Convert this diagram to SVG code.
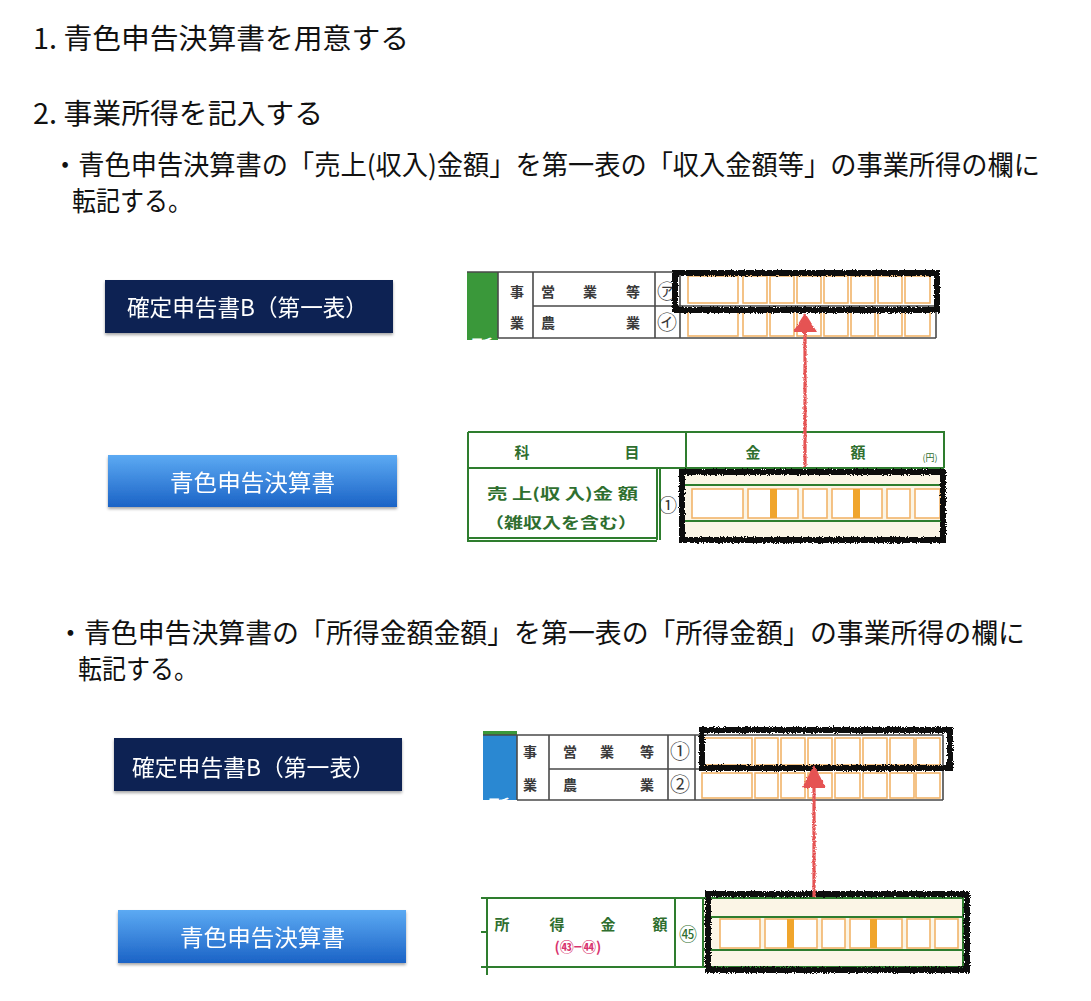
<svg xmlns="http://www.w3.org/2000/svg" width="1091" height="1001" viewBox="0 0 1091 1001">
<defs>
<style>
text{font-family:"Noto Sans CJK JP","Noto Sans",sans-serif}
.h{font-size:28px;fill:#111}
.bt{font-size:27px;fill:#111}
.bx{font-size:23px;fill:#fff}
.navy{fill:#0b2253}
.blue{fill:url(#bg)}
.tk{font-size:14px;font-weight:bold;fill:#3a3a3a}
.tg{font-size:15px;font-weight:bold;fill:#2f6f2f}
.ln{stroke:#4a4a4a;stroke-width:1.6;fill:none}
.gl{stroke:#2e7d2e;stroke-width:2;fill:none}
.cell{fill:#fff;stroke:#f2b46a;stroke-width:1.6}
.bar{fill:#f0a52c}
.beige{fill:#fbf5e6}
.scr{fill:none;stroke:#0a0a0a;stroke-width:6;filter:url(#rough)}
.arr{stroke:#e55353;stroke-width:3.2;fill:none;filter:url(#rough2)}
.ah{fill:#e55353;filter:url(#rough2)}
</style>
<linearGradient id="bg" x1="0" y1="0" x2="0" y2="1">
<stop offset="0" stop-color="#5caaf3"/>
<stop offset="1" stop-color="#1b63c6"/>
</linearGradient>
<filter id="sh" x="-5%" y="-20%" width="110%" height="150%">
<feDropShadow dx="0" dy="2" stdDeviation="1.5" flood-color="#000" flood-opacity="0.35"/>
</filter>
<filter id="rough" x="-5%" y="-30%" width="110%" height="160%">
<feTurbulence type="fractalNoise" baseFrequency="0.9" numOctaves="2" seed="3" result="n"/>
<feDisplacementMap in="SourceGraphic" in2="n" scale="4" xChannelSelector="R" yChannelSelector="G"/>
</filter>
<filter id="rough2" filterUnits="userSpaceOnUse" x="0" y="0" width="1091" height="1001">
<feTurbulence type="fractalNoise" baseFrequency="0.9" numOctaves="2" seed="7" result="n"/>
<feDisplacementMap in="SourceGraphic" in2="n" scale="3" xChannelSelector="R" yChannelSelector="G"/>
</filter>
<clipPath id="c1"><rect x="467" y="272" width="31" height="68"/></clipPath>
<clipPath id="c3"><rect x="483" y="735" width="34" height="65"/></clipPath>
</defs>
<rect width="1091" height="1001" fill="#fff"/>

<g id="texts">
<text class="h" x="33" y="49" textLength="376" lengthAdjust="spacingAndGlyphs">1. 青色申告決算書を用意する</text>
<text class="h" x="33" y="124" textLength="290" lengthAdjust="spacingAndGlyphs">2. 事業所得を記入する</text>
<text class="bt" x="52" y="175" textLength="988" lengthAdjust="spacingAndGlyphs">・青色申告決算書の「売上(収入)金額」を第一表の「収入金額等」の事業所得の欄に</text>
<text class="bt" x="72" y="211" textLength="120" lengthAdjust="spacingAndGlyphs">転記する。</text>
<text class="bt" x="57" y="643" textLength="968" lengthAdjust="spacingAndGlyphs">・青色申告決算書の「所得金額金額」を第一表の「所得金額」の事業所得の欄に</text>
<text class="bt" x="78" y="679" textLength="120" lengthAdjust="spacingAndGlyphs">転記する。</text>
</g>

<g id="box1" filter="url(#sh)">
<rect class="navy" x="105" y="280" width="288" height="53"/>
<text class="bx" x="127" y="316" textLength="241" lengthAdjust="spacingAndGlyphs">確定申告書B（第一表）</text>
</g>
<g id="box2" filter="url(#sh)">
<rect class="blue" x="108" y="455" width="289" height="52"/>
<text class="bx" x="170" y="491" textLength="165" lengthAdjust="spacingAndGlyphs">青色申告決算書</text>
</g>
<g id="box3" filter="url(#sh)">
<rect class="navy" x="114" y="738" width="288" height="53"/>
<text class="bx" x="132" y="776" textLength="243" lengthAdjust="spacingAndGlyphs">確定申告書B（第一表）</text>
</g>
<g id="box4" filter="url(#sh)">
<rect class="blue" x="118" y="910" width="288" height="53"/>
<text class="bx" x="180" y="946" textLength="165" lengthAdjust="spacingAndGlyphs">青色申告決算書</text>
</g>

<g id="table1">
<rect x="467" y="272" width="31" height="68" fill="#3a983a"/>
<text x="471" y="356" font-size="22" fill="#fff" clip-path="url(#c1)">所</text>
<path class="ln" d="M467 272H936M533 272V338M655 272V338M680 272V338M936 272V338M533 306H936M498 338H936M498 272V338"/>
<g>
<rect class="cell" x="688" y="276" width="50" height="27"/><rect class="cell" x="743" y="276" width="24" height="27"/><rect class="cell" x="770" y="276" width="24" height="27"/><rect class="cell" x="797" y="276" width="24" height="27"/><rect class="cell" x="824" y="276" width="24" height="27"/><rect class="cell" x="851" y="276" width="24" height="27"/><rect class="cell" x="878" y="276" width="24" height="27"/><rect class="cell" x="905" y="276" width="25" height="27"/>
<rect class="cell" x="688" y="310" width="50" height="26"/><rect class="cell" x="743" y="310" width="24" height="26"/><rect class="cell" x="770" y="310" width="24" height="26"/><rect class="cell" x="797" y="310" width="24" height="26"/><rect class="cell" x="824" y="310" width="24" height="26"/><rect class="cell" x="851" y="310" width="24" height="26"/><rect class="cell" x="878" y="310" width="24" height="26"/><rect class="cell" x="905" y="310" width="25" height="26"/>
</g>
<g class="tk" text-anchor="middle">
<text x="517" y="297">事</text><text x="548" y="297">営</text><text x="590" y="297">業</text><text x="633" y="297">等</text>
<text x="517" y="328">業</text><text x="548" y="328">農</text><text x="633" y="328">業</text>
<text x="667" y="299" font-size="20" font-weight="normal">㋐</text><text x="667" y="330" font-size="20" font-weight="normal">㋑</text>
</g>
<rect class="scr" x="675" y="273" width="262" height="37"/>
</g>

<g id="table2">
<rect class="beige" x="683" y="470" width="260" height="68"/>
<path class="gl" d="M468 432H944V468M468 432V542M686 432V468M468 468H944M657 468V540M660 468V540M683 468V540M468 538H657M468 541H657M683 485H943M683 521H943"/>
<g>
<rect class="cell" x="692" y="489" width="51" height="29"/><rect class="cell" x="748" y="489" width="50" height="29"/><rect class="bar" x="770" y="489" width="7" height="29"/><rect class="cell" x="803" y="489" width="24" height="29"/><rect class="cell" x="832" y="489" width="50" height="29"/><rect class="bar" x="853" y="489" width="7" height="29"/><rect class="cell" x="887" y="489" width="23" height="29"/><rect class="cell" x="915" y="489" width="25" height="29"/>
</g>
<g class="tg">
<text x="522" y="458" text-anchor="middle">科</text><text x="632" y="458" text-anchor="middle">目</text>
<text x="753" y="458" text-anchor="middle">金</text><text x="858" y="458" text-anchor="middle">額</text>
<text x="930" y="461" font-size="9" font-weight="normal" text-anchor="middle">(円)</text>
<text x="487" y="499" textLength="151" lengthAdjust="spacingAndGlyphs">売 上(収 入)金 額</text>
<text x="485" y="528" textLength="152" lengthAdjust="spacingAndGlyphs">（雑収入を含む）</text>
<text x="668" y="512" font-size="18" font-weight="normal" fill="#333" text-anchor="middle">①</text>
</g>
<rect class="scr" x="682" y="472" width="261" height="68"/>
</g>

<g id="table3">
<rect x="483" y="731" width="34" height="4" fill="#3a983a"/>
<rect x="483" y="735" width="34" height="65" fill="#2a88d2"/>
<text x="488" y="816" font-size="22" fill="#fff" clip-path="url(#c3)">所</text>
<path class="ln" d="M483 735H943M517 735V800M549 735V800M668 735V800M695 735V800M943 735V800M549 769H943M517 800H943"/>
<g>
<rect class="cell" x="702" y="738" width="50" height="27"/><rect class="cell" x="755" y="738" width="23" height="27"/><rect class="cell" x="781" y="738" width="24" height="27"/><rect class="cell" x="808" y="738" width="24" height="27"/><rect class="cell" x="835" y="738" width="25" height="27"/><rect class="cell" x="863" y="738" width="24" height="27"/><rect class="cell" x="890" y="738" width="24" height="27"/><rect class="cell" x="916" y="738" width="24" height="27"/>
<rect class="cell" x="702" y="773" width="50" height="25"/><rect class="cell" x="755" y="773" width="23" height="25"/><rect class="cell" x="781" y="773" width="24" height="25"/><rect class="cell" x="808" y="773" width="24" height="25"/><rect class="cell" x="835" y="773" width="25" height="25"/><rect class="cell" x="863" y="773" width="24" height="25"/><rect class="cell" x="890" y="773" width="24" height="25"/><rect class="cell" x="916" y="773" width="24" height="25"/>
</g>
<g class="tk" text-anchor="middle">
<text x="530" y="757">事</text><text x="570" y="757">営</text><text x="607" y="757">業</text><text x="647" y="757">等</text>
<text x="530" y="790">業</text><text x="570" y="790">農</text><text x="647" y="790">業</text>
<text x="680" y="759" font-size="20" font-weight="normal">①</text><text x="680" y="792" font-size="20" font-weight="normal">②</text>
</g>
<rect class="scr" x="702" y="730" width="248" height="38"/>
</g>

<g id="table4">
<rect class="beige" x="703" y="898" width="260" height="69"/>
<path class="gl" d="M487 898V975M487 898H963V967M487 967H963M675 898V967M703 898V967M703 917H963M703 950H963M481 898H487M481 932H487M481 967H487"/>
<g>
<rect class="cell" x="720" y="919" width="40" height="29"/><rect class="cell" x="765" y="919" width="52" height="29"/><rect class="bar" x="787" y="919" width="7" height="29"/><rect class="cell" x="822" y="919" width="23" height="29"/><rect class="cell" x="850" y="919" width="52" height="29"/><rect class="bar" x="870" y="919" width="7" height="29"/><rect class="cell" x="907" y="919" width="23" height="29"/><rect class="cell" x="935" y="919" width="23" height="29"/>
</g>
<g class="tg" text-anchor="middle">
<text x="502" y="930">所</text><text x="557" y="930">得</text><text x="608" y="930">金</text><text x="660" y="930">額</text>
<text x="578" y="952" font-size="14" fill="#d8336e">(㊸−㊹)</text>
<text x="688" y="941" font-size="18" font-weight="normal">㊺</text>
</g>
<rect class="scr" x="708" y="894" width="259" height="76"/>
</g>

<g id="connectors">
<path class="arr" d="M805 467V330"/>
<path class="ah" d="M805 313L817 332H793Z"/>
<path class="arr" d="M814 897V786"/>
<path class="ah" d="M814 765L826 788H802Z"/>
</g>
</svg>
